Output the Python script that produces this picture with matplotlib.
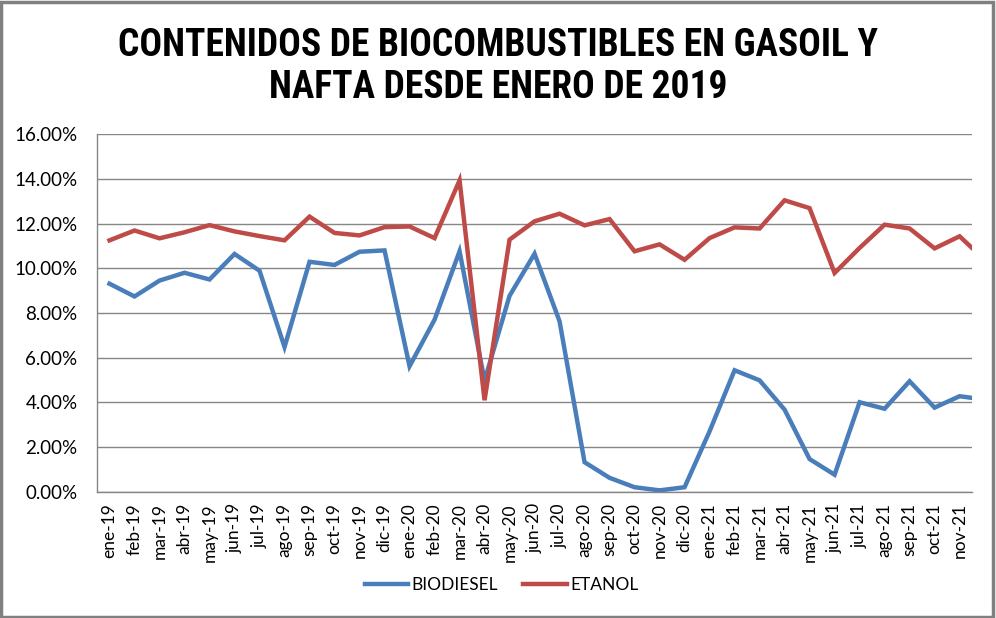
import matplotlib
matplotlib.use("Agg")
import matplotlib.pyplot as plt
from matplotlib.ticker import PercentFormatter, MultipleLocator
from matplotlib.patches import Rectangle
import numpy as np

meses = ["ene-19", "feb-19", "mar-19", "abr-19", "may-19", "jun-19", "jul-19", "ago-19",
         "sep-19", "oct-19", "nov-19", "dic-19",
         "ene-20", "feb-20", "mar-20", "abr-20", "may-20", "jun-20", "jul-20", "ago-20",
         "sep-20", "oct-20", "nov-20", "dic-20",
         "ene-21", "feb-21", "mar-21", "abr-21", "may-21", "jun-21", "jul-21", "ago-21",
         "sep-21", "oct-21", "nov-21", "dic-21"]

biodiesel = [9.31, 8.74, 9.45, 9.80, 9.50, 10.64, 9.89, 6.48, 10.29, 10.15, 10.74, 10.80,
             5.62, 7.70, 10.76, 4.98, 8.77, 10.65, 7.63, 1.33, 0.63, 0.21, 0.07, 0.21,
             2.71, 5.44, 4.99, 3.68, 1.47, 0.77, 4.01, 3.72, 4.95, 3.77, 4.28, 4.13]

etanol = [11.25, 11.69, 11.34, 11.61, 11.93, 11.65, 11.44, 11.25, 12.31, 11.58, 11.47, 11.84,
          11.87, 11.35, 13.93, 4.10, 11.28, 12.10, 12.44, 11.92, 12.20, 10.76, 11.07, 10.38,
          11.35, 11.83, 11.78, 13.04, 12.69, 9.79, 10.91, 11.95, 11.78, 10.89, 11.43, 10.38]

# only the labels up to nov-21 are visible in the original chart
n_visible = 35

plt.rcParams.update({
    "font.family": ["Lato", "DejaVu Sans"],
})

fig = plt.figure(figsize=(9.96, 6.18), dpi=100)
ax = fig.add_axes([0.0974, 0.204, 0.8786, 0.579])

x = np.arange(len(meses))
ax.plot(x, biodiesel, color="#4A7EBB", linewidth=3.2, label="BIODIESEL", solid_joinstyle="miter")
ax.plot(x, etanol, color="#BE4B48", linewidth=3.2, label="ETANOL", solid_joinstyle="miter")

ax.set_xlim(-0.5, n_visible - 0.5)
ax.set_ylim(0, 16)
ax.yaxis.set_major_locator(MultipleLocator(2))
ax.yaxis.set_major_formatter(PercentFormatter(xmax=100, decimals=2))
ax.set_xticks(x[:n_visible])
ax.set_xticklabels(meses[:n_visible], rotation=90, fontsize=12.5)
ax.tick_params(axis="y", labelsize=13.5, length=0, pad=14)
ax.tick_params(axis="x", length=0, pad=8)

ax.grid(True, axis="y", color="#868686", linewidth=1.0)
ax.set_axisbelow(True)
for s in ["top", "right"]:
    ax.spines[s].set_visible(False)
for s in ["left", "bottom"]:
    ax.spines[s].set_color("#868686")
    ax.spines[s].set_linewidth(1.0)

fig.text(0.5, 0.893, "CONTENIDOS DE BIOCOMBUSTIBLES EN GASOIL Y\nNAFTA DESDE ENERO DE 2019",
         ha="center", va="center", fontsize=27, fontweight="bold", linespacing=1.17,
         family=["Liberation Sans Narrow", "Roboto Condensed", "Roboto", "DejaVu Sans"])

fig.legend(loc="center", bbox_to_anchor=(0.5035, 0.053), ncol=2, frameon=False,
           fontsize=12.5, handlelength=2.5, columnspacing=1.45, handletextpad=0.2)

fig.patches.append(Rectangle((0.001, 0.002), 0.996, 0.995, transform=fig.transFigure,
                             fill=False, edgecolor="#808080", linewidth=2.5))

fig.savefig("out.png", dpi=100)
